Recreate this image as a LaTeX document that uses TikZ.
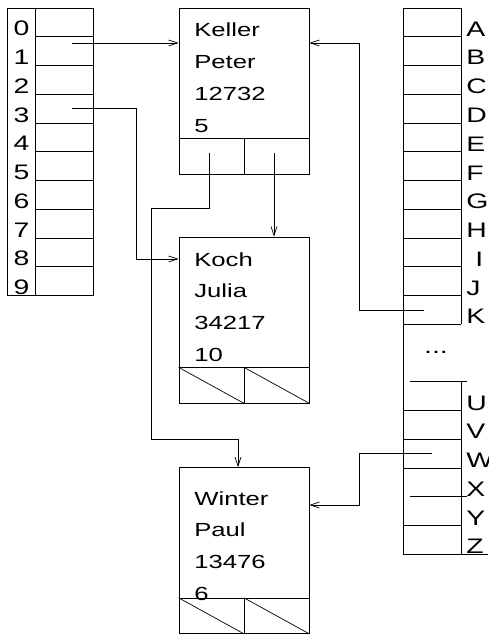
\documentclass[tikz,border=0pt]{standalone}
\usepackage{fontspec}
\usetikzlibrary{arrows.meta}
\newfontfamily\figfont[FakeStretch=1.35]{Liberation Sans}

\tikzset{
  rec/.style={draw, minimum width=130pt, minimum height=166pt, inner sep=0pt},
  rectxt/.style={font=\figfont\fontsize{19}{20}\selectfont, anchor=base west, inner sep=0pt},
  tablbl/.style={font=\figfont\fontsize{21}{22}\selectfont, inner sep=0pt},
}

\begin{document}
\begin{tikzpicture}[x=1pt, y=-1pt, line width=0.7pt,
    >={Straight Barb[length=9pt,width=6pt]}]
    \useasboundingbox (0,0) rectangle (488,634);

    % left table, 0..9
    \draw (7,8) rectangle (93,295.5);
    \draw (35,8) -- (35,295.5);
    \foreach \k in {1,...,9}
        \draw (35,{8+28.75*\k}) -- (93,{8+28.75*\k});
    \foreach \d in {0,...,9}
        \node[tablbl, anchor=base] (d\d) at (21.5,{35.8+28.75*\d}) {\d};

    % right table, A..Z
    \draw (403,8) -- (403,554) -- (488,554);
    \draw (461,8) -- (461,324.25);
    \draw (461,381.75) -- (461,554);
    \foreach \k in {0,...,11}
        \draw (403,{8+28.75*\k}) -- (461,{8+28.75*\k});
    \foreach \k in {14,15,16,18}
        \draw (403,{8+28.75*\k}) -- (461,{8+28.75*\k});
    \draw (410,381.75) -- (467,381.75);
    \draw (410,496.75) -- (467,496.75);
    \foreach \l/\dx [count=\i] in {A/0,B/0,C/0,D/0,E/0,F/0,G/0,H/0,I/9,J/0,K/0}
        \node[tablbl, anchor=base west] (l\l) at ({466+\dx},{7.5+28.75*\i}) {\l};
    \foreach \l [count=\i from 14] in {U,...,Z}
        \node[tablbl, anchor=base west] (l\l) at (466,{7.5+28.75*\i}) {\l};
    \node[tablbl, anchor=base] (dots) at (436,353) {...};

    % records
    \node[rec] (keller) at (244,91) {};
    \node[rec] (koch) at (244,320) {};
    \node[rec] (winter) at (244,550.5) {};
    \foreach \r in {keller,koch,winter} {
        \draw ([yshift=36pt]\r.south west) -- ([yshift=36pt]\r.south east);
        \draw (\r.south) -- ([yshift=36pt]\r.south);
    }
    \foreach \r in {koch,winter} {
        \draw ([yshift=36pt]\r.south west) -- (\r.south);
        \draw ([yshift=36pt]\r.south) -- (\r.south east);
    }
    \foreach \t [count=\i] in {Keller,Peter,12732,5}
        \node[rectxt] (keller-\i) at (194,{37+31.7*(\i-1)}) {\t};
    \foreach \t [count=\i] in {Koch,Julia,34217,10}
        \node[rectxt] (koch-\i) at (194,{266+31.7*(\i-1)}) {\t};
    \foreach \t [count=\i] in {Winter,Paul,13476,6}
        \node[rectxt] (winter-\i) at (194,{505+31.7*(\i-1)}) {\t};

    % pointers
    \coordinate (r1) at (72,43);
    \coordinate (r3) at (72,108);
    \coordinate (kl) at (209,153);
    \coordinate (kr) at (274,153);
    \coordinate (pk) at (424,310);
    \coordinate (pw) at (432,453);

    \draw[->] (r1) -- (r1 -| keller.west);
    \draw[->] (r3) -| (136,259) -- (koch.west |- 136,259);
    \draw[->] (kr) -- (kr |- koch.north);
    \draw[->] (kl) |- (151,208) |- (238,439) -- (238,439 |- winter.north);
    \draw[->] (pk) -| (359,43) -- (keller.east |- 359,43);
    \draw[->] (pw) -| (359,505) -- (winter.east |- 359,505);
\end{tikzpicture}
\end{document}
